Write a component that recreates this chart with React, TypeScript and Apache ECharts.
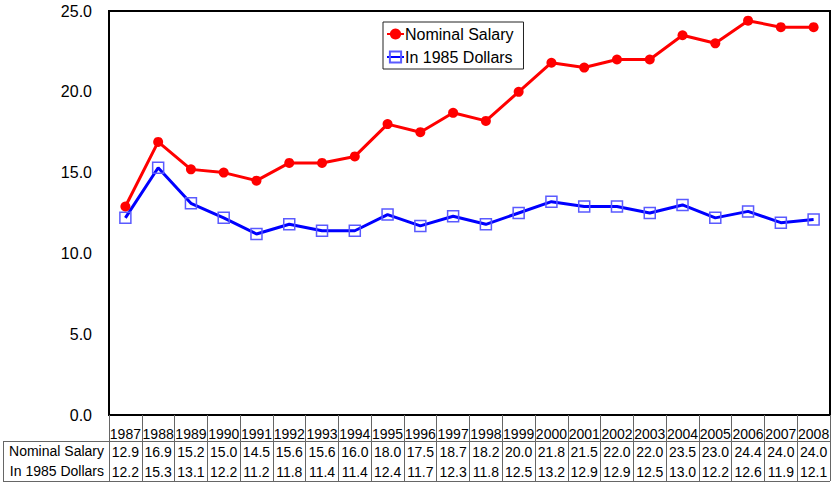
import React, { useEffect, useRef } from "react";
import * as echarts from "echarts";

const years = ["1987","1988","1989","1990","1991","1992","1993","1994","1995","1996","1997","1998","1999","2000","2001","2002","2003","2004","2005","2006","2007","2008"];
const nominalSalary = [12.9,16.9,15.2,15.0,14.5,15.6,15.6,16.0,18.0,17.5,18.7,18.2,20.0,21.8,21.5,22.0,22.0,23.5,23.0,24.4,24.0,24.0];
const in1985Dollars = [12.2,15.3,13.1,12.2,11.2,11.8,11.4,11.4,12.4,11.7,12.3,11.8,12.5,13.2,12.9,12.9,12.5,13.0,12.2,12.6,11.9,12.1];
const seriesNames = ["Nominal Salary", "In 1985 Dollars"];
const yTicks = { min: 0, max: 25, interval: 5 };

const FONT = "'Liberation Sans', Arial, Helvetica, sans-serif";

export default function App() {
  const ref = useRef<HTMLDivElement>(null);
  useEffect(() => {
    if (!ref.current) return;
    const chart = echarts.init(ref.current, null, { renderer: "svg" });
    const W = 833;
    const gridLeft = 109, gridRight = 3, gridTop = 11, gridBottom = 67;
    const plotRight = W - gridRight;
    const tableFont = 14;
    const valueAxis = (data: string[], margin: number) => ({
      type: "category",
      gridIndex: 0,
      position: "bottom",
      data,
      axisLine: { show: false },
      axisTick: { show: false },
      splitLine: { show: false },
      axisLabel: {
        interval: 0,
        margin,
        fontSize: tableFont,
        fontFamily: FONT,
        color: "#000",
        lineHeight: 14,
      },
    });
    chart.setOption({
      animation: false,
      backgroundColor: "#fff",
      textStyle: { fontFamily: FONT },
      grid: {
        left: gridLeft,
        right: gridRight,
        top: gridTop,
        bottom: gridBottom,
        show: true,
        borderColor: "#000",
        borderWidth: 2,
        containLabel: false,
      },
      legend: {
        data: seriesNames,
        orient: "vertical",
        left: 383,
        top: 22,
        borderColor: "#222",
        borderWidth: 1,
        padding: [4, 10, 4, 3],
        itemGap: 7,
        itemWidth: 17,
        itemHeight: 14,
        textStyle: { fontSize: 16, fontFamily: FONT, color: "#000", padding: [0, 0, 0, -4] },
      },
      xAxis: [
        {
          type: "category",
          gridIndex: 0,
          position: "bottom",
          data: years,
          boundaryGap: true,
          axisLine: { show: false },
          axisTick: {
            show: true,
            interval: 0,
            length: 66,
            alignWithLabel: false,
            lineStyle: { color: "#666", width: 1 },
          },
          splitLine: { show: false },
          axisLabel: {
            interval: 0,
            margin: 12,
            fontSize: tableFont,
            fontFamily: FONT,
            color: "#000",
            lineHeight: 14,
          },
        },
        valueAxis(nominalSalary.map((v) => v.toFixed(1)), 30),
        valueAxis(in1985Dollars.map((v) => v.toFixed(1)), 50),
      ],
      yAxis: {
        type: "value",
        min: yTicks.min,
        max: yTicks.max,
        interval: yTicks.interval,
        axisLine: { show: false },
        axisTick: { show: false },
        splitLine: { show: false },
        axisLabel: {
          margin: 17,
          fontSize: 16,
          fontFamily: FONT,
          color: "#000",
          formatter: (v: number) => v.toFixed(1),
        },
      },
      series: [
        {
          name: seriesNames[0],
          type: "line",
          xAxisIndex: 0,
          data: nominalSalary,
          symbol: "circle",
          symbolSize: 10,
          lineStyle: { color: "#ff0000", width: 3 },
          itemStyle: { color: "#ff0000" },
          z: 3,
        },
        {
          name: seriesNames[1],
          type: "line",
          xAxisIndex: 0,
          data: in1985Dollars,
          symbol: "rect",
          symbolSize: 11,
          lineStyle: { color: "#0000ff", width: 3 },
          itemStyle: { color: "rgba(255,255,255,0)", borderColor: "#5a5aff", borderWidth: 1.5 },
          z: 2,
        },
      ],
      graphic: [
        { type: "line", shape: { x1: 3, y1: 441.5, x2: plotRight, y2: 441.5 }, style: { stroke: "#666", lineWidth: 1 } },
        { type: "line", shape: { x1: 3, y1: 481.5, x2: plotRight, y2: 481.5 }, style: { stroke: "#666", lineWidth: 1 } },
        { type: "line", shape: { x1: 3.5, y1: 441, x2: 3.5, y2: 482 }, style: { stroke: "#666", lineWidth: 1 } },
        {
          type: "text",
          x: 104,
          y: 451,
          style: { text: seriesNames[0], fontSize: tableFont, fontFamily: FONT, fill: "#000", align: "right", verticalAlign: "middle" },
        },
        {
          type: "text",
          x: 104,
          y: 471,
          style: { text: seriesNames[1], fontSize: tableFont, fontFamily: FONT, fill: "#000", align: "right", verticalAlign: "middle" },
        },
      ],
    });
    return () => chart.dispose();
  }, []);
  return (
    <div
      ref={ref}
      style={{ position: "fixed", left: 0, top: 0, width: 833, height: 482, background: "#fff" }}
    />
  );
}
